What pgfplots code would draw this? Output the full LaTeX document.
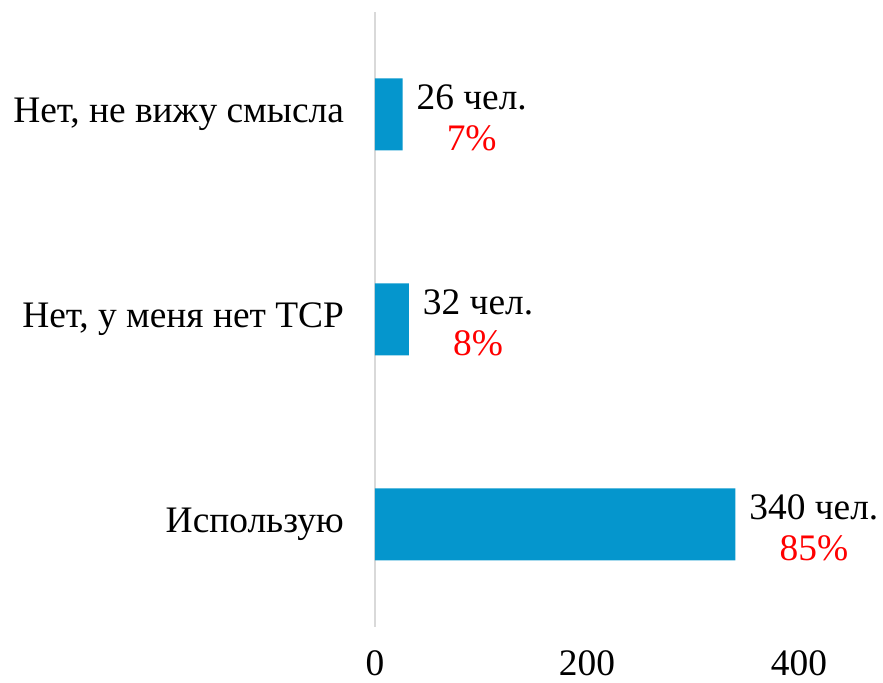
\documentclass[border=0pt]{standalone}
\usepackage{pgfplots}
\pgfplotsset{compat=1.18}
\usepackage{fontspec}
\setmainfont{Liberation Serif}
\definecolor{barblue}{HTML}{0596CD}
\definecolor{axgray}{HTML}{D9D9D9}
\begin{document}
\begin{tikzpicture}
\path[use as bounding box] (-187.5pt,-28pt) rectangle (254pt,313.5pt);
\begin{axis}[
  at={(0,0)}, anchor=south west,
  scale only axis,
  width=212pt, height=307.5pt,
  xbar, bar width=36pt,
  xmin=0, xmax=400,
  ymin=-0.5, ymax=2.5,
  xtick={0,200,400},
  ytick={0,1,2},
  yticklabels={Использую,{Нет, у меня нет ТСР},{Нет, не вижу смысла}},
  axis x line*=bottom, axis y line*=left,
  x axis line style={draw=none},
  y axis line style={draw=axgray, line width=1pt},
  major tick length=0pt,
  tick style={draw=none},
  font=\fontsize{18.7}{20.5}\selectfont,
  /pgf/number format/assume math mode=true,
  xticklabel style={yshift=-8.5pt},
  yticklabel style={xshift=-12pt},
  clip=false,
  point meta=explicit symbolic,
  nodes near coords,
  every node near coord/.append style={anchor=west, align=center, black, xshift=3.5pt, yshift=-1.5pt, font=\fontsize{18.7}{20.5}\selectfont},
]
\addplot[fill=barblue, draw=none] coordinates {
  (340,0) [340 чел.\\\textcolor{red}{85\%}]
  (32,1) [32 чел.\\\textcolor{red}{8\%}]
  (26,2) [26 чел.\\\textcolor{red}{7\%}]
};
\end{axis}
\end{tikzpicture}
\end{document}
